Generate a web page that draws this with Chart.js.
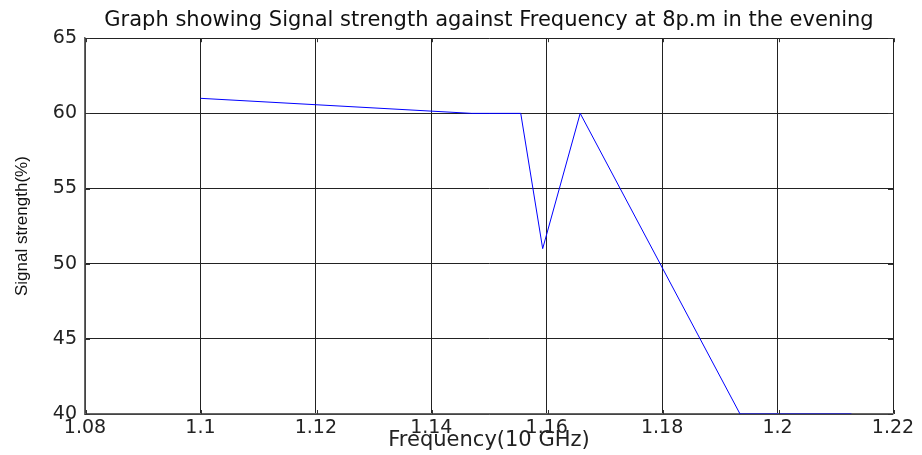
<!DOCTYPE html>
<html>
<head>
<meta charset="utf-8">
<script src="https://cdn.jsdelivr.net/npm/chart.js@4"></script>
<style>
html,body{margin:0;padding:0;background:#fff;}
#wrap{width:922px;height:455px;position:relative;}
</style>
</head>
<body>
<div id="wrap"><canvas id="c"></canvas></div>
<script>
const frequency = [1.1, 1.147, 1.1555, 1.1593, 1.1658, 1.1935, 1.2128];
const signalStrength = [61, 60, 60, 51, 60, 40, 40];
const xTickValues = [1.08, 1.1, 1.12, 1.14, 1.16, 1.18, 1.2, 1.22];
const xTickLabels = ['1.08', '1.1', '1.12', '1.14', '1.16', '1.18', '1.2', '1.22'];
const yTickValues = [40, 45, 50, 55, 60, 65];
const yTickLabels = ['40', '45', '50', '55', '60', '65'];
const titleText = 'Graph showing Signal strength against Frequency at 8p.m in the evening';
const xTitle = 'Frequency(10 GHz)';
const yTitle = 'Signal strength(%)';

const points = frequency.map((f, i) => ({x: f, y: signalStrength[i]}));

const innerTicks = {
  id: 'innerTicks',
  afterDraw(chart) {
    const {ctx, chartArea: a, scales: {x, y}} = chart;
    ctx.save();
    ctx.strokeStyle = '#333';
    ctx.lineWidth = 1;
    ctx.beginPath();
    xTickValues.forEach(v => {
      const px = Math.round(x.getPixelForValue(v)) + 0.5;
      ctx.moveTo(px + 1, a.bottom); ctx.lineTo(px + 1, a.bottom - 4);
      ctx.moveTo(px + 1, a.top); ctx.lineTo(px + 1, a.top + 4);
    });
    yTickValues.forEach(v => {
      const py = Math.round(y.getPixelForValue(v)) + 0.5;
      ctx.moveTo(a.left, py); ctx.lineTo(a.left + 5, py);
      ctx.moveTo(a.right, py); ctx.lineTo(a.right - 5, py);
    });
    ctx.stroke();
    ctx.restore();
  }
};

new Chart(document.getElementById('c'), {
  type: 'scatter',
  data: {
    datasets: [{
      data: points,
      showLine: true,
      borderColor: '#0000ff',
      borderWidth: 1,
      pointRadius: 0,
      pointHoverRadius: 0,
      tension: 0,
      fill: false
    }]
  },
  options: {
    responsive: true,
    maintainAspectRatio: false,
    animation: false,
    events: [],
    layout: {padding: {left: 0, right: 29, top: 0, bottom: 0}},
    plugins: {
      legend: {display: false},
      tooltip: {enabled: false},
      title: {
        display: true,
        fullSize: false,
        text: titleText,
        color: '#111',
        font: {family: 'DejaVu Sans', size: 21, weight: 'normal', lineHeight: 1.2},
        padding: {top: 8, bottom: 5}
      }
    },
    scales: {
      x: {
        type: 'linear',
        min: 1.08,
        max: 1.22,
        afterBuildTicks(scale) { scale.ticks = xTickValues.map(v => ({value: v})); },
        afterFit(scale) { scale.height = 41; },
        ticks: {
          padding: 3,
          color: '#222',
          maxRotation: 0,
          autoSkip: false,
          font: {family: 'DejaVu Sans', size: 19},
          callback: (v, i) => xTickLabels[i]
        },
        grid: {color: '#222', lineWidth: 1, drawTicks: false},
        border: {color: '#666', width: 1.5},
        title: {
          display: true,
          text: xTitle,
          color: '#222',
          font: {family: 'DejaVu Sans', size: 21},
          padding: {top: 0, bottom: 2}
        }
      },
      y: {
        min: 40,
        max: 65,
        afterBuildTicks(scale) { scale.ticks = yTickValues.map(v => ({value: v})); },
        afterFit(scale) { scale.width = 85; },
        ticks: {
          padding: 8,
          color: '#222',
          font: {family: 'DejaVu Sans', size: 19},
          callback: (v, i) => yTickLabels[i]
        },
        grid: {color: '#222', lineWidth: 1, drawTicks: false},
        border: {color: '#666', width: 1.5},
        title: {
          display: true,
          text: yTitle,
          color: '#111',
          font: {family: 'Liberation Sans', size: 17},
          padding: {top: 12, bottom: 0}
        }
      }
    }
  },
  plugins: [innerTicks]
});
</script>
</body>
</html>
